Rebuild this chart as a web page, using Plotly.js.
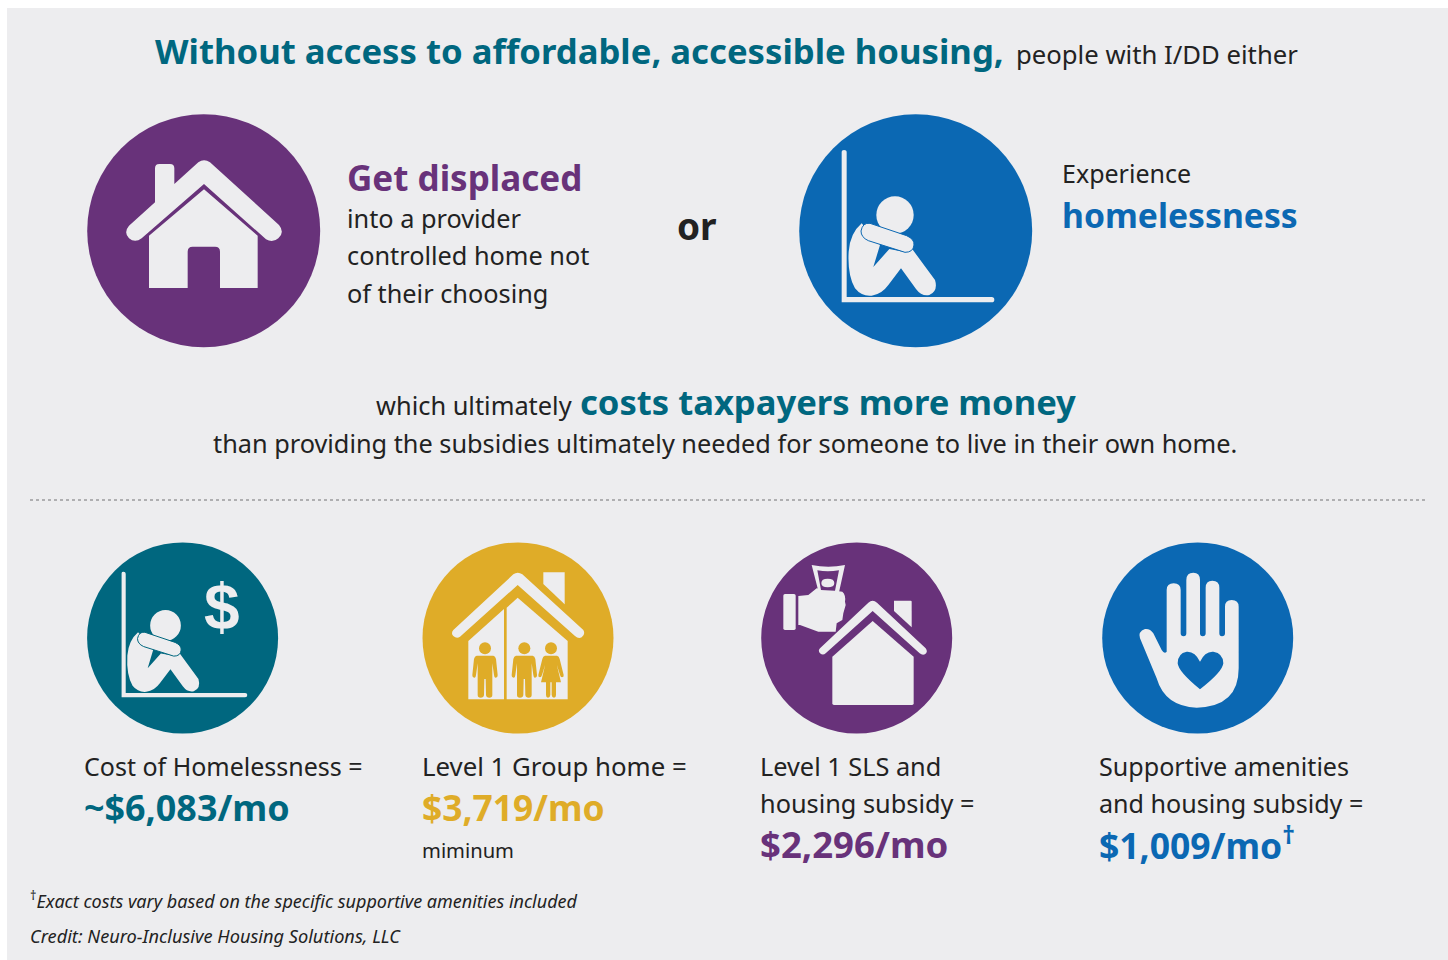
<!DOCTYPE html>
<html><head><meta charset="utf-8">
<script src="https://cdn.plot.ly/plotly-3.0.1.min.js"></script>
<style>html,body{margin:0;padding:0;background:#fff}#c{width:1448px;height:960px}</style>
</head><body><div id="c"></div>
<script>
const TEAL='#00677f',PURPLE='#68327a',BLUE='#0b68b3',GOLD='#dfac28',BG='#ededef',INK='#222222';
const HEAD='"Noto Sans", sans-serif', BODY='"Noto Sans", sans-serif';

const costLabels=[['Cost of Homelessness ='],['Level 1 Group home ='],['Level 1 SLS and','housing subsidy ='],['Supportive amenities','and housing subsidy =']];
const costValues=['~$6,083/mo','$3,719/mo','$2,296/mo','$1,009/mo<sup>†</sup>'];
const costNotes=['','miminum','',''];
const costColors=[TEAL,GOLD,PURPLE,BLUE];
const displacedLines=['into a provider','controlled home not','of their choosing'];
const footnotes=['<sup>†</sup><i>Exact costs vary based on the specific supportive amenities included</i>','<i>Credit: Neuro-Inclusive Housing Solutions, LLC</i>'];

// layout and type settings, separate from the content above
const costLeft=[84,422,760,1099];
const costLabelSize=[25,25.8,25.3,25.1];
const costValueSize=[35.9,35.4,36.5,35.5];
const costValueY=[807.5,807,844,843];
const footSize=[18,18.2];
const footY=[900,935.5];

const anns=[];
function t(text,x,y,size,color,bold,anchor,family){
  anns.push({text:bold?'<b>'+text+'</b>':text,x,y,xref:'x',yref:'y',showarrow:false,xanchor:anchor||'left',yanchor:'middle',
    borderpad:0,borderwidth:0,font:{family:family||(bold?HEAD:BODY),size,color}});
}
t('Without access to affordable, accessible housing,',155,50,34.7,TEAL,true);
t('people with I/DD either',1016,54,25.7,INK);
t('Get displaced',347,177,35,PURPLE,true);
displacedLines.forEach((l,i)=>t(l,347,218+i*37.4,25.3,INK));
t('or',677,225,37,INK,true);
t('Experience',1062,173,25,INK);
t('homelessness',1062,214.5,33.7,BLUE,true);
t('which ultimately',376,405,25.4,INK);
t('costs taxpayers more money',580,401.5,34.6,TEAL,true);
t('than providing the subsidies ultimately needed for someone to live in their own home.',213,443,25.3,INK);
costLabels.forEach((ls,i)=>{
  ls.forEach((l,j)=>t(l,costLeft[i],766+j*37,costLabelSize[i],INK));
  t(costValues[i],costLeft[i],costValueY[i],costValueSize[i],costColors[i],true);
  if(costNotes[i]) t(costNotes[i],costLeft[i],850,20.2,INK);
});
t('$',222,607,64,BG,true,'center','"Liberation Sans Narrow", sans-serif');
footnotes.forEach((f,i)=>t(f,30,footY[i],footSize[i],INK));

function xf(d,ox,oy,s){return d.replace(/(-?\d+\.?\d*),(-?\d+\.?\d*)/g,(m,a,b)=>(ox+a*s).toFixed(2)+','+(oy+b*s).toFixed(2));}
const shapes=[];
function fillP(d,color,line){shapes.push({type:'path',path:d,xref:'x',yref:'y',fillcolor:color,line:line||{width:0}});}
function circ(cx,cy,r,color){shapes.push({type:'circle',xref:'x',yref:'y',x0:cx-r,x1:cx+r,y0:cy-r,y1:cy+r,fillcolor:color,line:{width:0}});}
shapes.push({type:'rect',xref:'x',yref:'y',x0:7,x1:1448,y0:8,y1:960,fillcolor:BG,line:{width:0}});
shapes.push({type:'line',xref:'x',yref:'y',x0:30,x1:1425,y0:500,y1:500,line:{color:'#9a9b9d',width:1.3,dash:'dot'}});

// big house
circ(203.7,230.7,116.5,PURPLE);
const H1=[80,105,1/3];
fillP(xf('M147,362 L225,292 L225,190 Q225,177 238,177 L270,177 Q283,177 283,190 L283,237 L355,172 Q372,160 390,172 L597,360 Q615,382 595,400 Q578,415 558,403 L372,237 L185,400 Q165,415 147,400 Q130,382 147,362 Z',...H1),BG);
fillP(xf('M207,392 L372,253 L533,392 L533,549 L420,549 L420,440 Q420,425 405,425 L338,425 Q323,425 323,440 L323,549 L207,549 Z',...H1),BG);

// seated person
function person(ox,oy,s,bg){
  fillP(xf('M155,140 Q155,135 162,135 Q170,135 170,142 L170,576 L605,576 Q613,576 613,584 Q613,592 605,592 L155,592 Z',ox,oy,s),BG);
  circ(ox+315*s,oy+330*s,56*s,BG);
  fillP(xf('M215,355 Q180,385 176,440 Q172,510 195,550 Q215,575 245,572 Q275,568 295,540 L333,490 L378,552 Q395,575 418,570 Q445,558 435,525 L365,430 L340,440 L298,432 L250,486 L270,420 Z',ox,oy,s),BG);
  fillP(xf('M240,355 L350,392 Q374,403 372,420 Q370,442 345,442 L235,407 Q213,397 213,378 Q218,352 240,355 Z',ox,oy,s),BG,{color:bg,width:1});
}
circ(915.7,230.7,116.5,BLUE);
person(790,105,1/3,BLUE);

// teal
circ(182.6,638,95.5,TEAL);
person(79.04,534.8,0.2745,TEAL);

// gold group home
circ(518,638,95.5,GOLD);
const H2=[415,535,1/3];
fillP(xf('M115,285 L295,118 Q308,108 322,118 L505,285 Q512,298 500,307 Q490,312 480,303 L308,150 L135,305 Q125,312 115,303 Q107,295 115,285 Z',...H2),BG);
fillP(xf('M385,112 L449,112 L449,208 L385,147 Z',...H2),BG);
fillP(xf('M160,318 L267,222 L267,493 L160,493 Z',...H2),BG);
fillP(xf('M275,218 L308,188 L458,318 L458,493 L275,493 Z',...H2),BG);
function male(cx){
  const X=v=>cx+v;
  circ(415+cx/3,535+340/3,6,GOLD);
  fillP(xf(`M${X(-25)},362 L${X(25)},362 Q${X(31)},363 ${X(33)},372 L${X(38)},420 Q${X(38)},428 ${X(31)},428 Q${X(28)},428 ${X(27)},420 L${X(22)},385 L${X(22)},480 Q${X(22)},488 ${X(13)},488 Q${X(4)},488 ${X(3)},480 L${X(2)},432 L${X(-2)},432 L${X(-3)},480 Q${X(-4)},488 ${X(-13)},488 Q${X(-22)},488 ${X(-22)},480 L${X(-22)},385 L${X(-27)},420 Q${X(-28)},428 ${X(-31)},428 Q${X(-38)},428 ${X(-38)},420 L${X(-33)},372 Q${X(-31)},363 ${X(-25)},362 Z`,...H2),GOLD);
}
function female(cx){
  const X=v=>cx+v;
  circ(415+cx/3,535+340/3,6,GOLD);
  fillP(xf(`M${X(-18)},362 L${X(18)},362 Q${X(24)},363 ${X(26)},372 L${X(38)},420 Q${X(39)},427 ${X(33)},427 Q${X(29)},427 ${X(27)},420 L${X(17)},388 L${X(30)},442 L${X(15)},442 L${X(15)},480 Q${X(15)},488 ${X(9)},488 Q${X(3)},488 ${X(2)},480 L${X(2)},442 L${X(-2)},442 L${X(-2)},480 Q${X(-3)},488 ${X(-9)},488 Q${X(-15)},488 ${X(-15)},480 L${X(-15)},442 L${X(-30)},442 L${X(-17)},388 L${X(-27)},420 Q${X(-29)},427 ${X(-33)},427 Q${X(-39)},427 ${X(-38)},420 L${X(-26)},372 Q${X(-24)},363 ${X(-18)},362 Z`,...H2),GOLD);
}
male(210);male(328);female(408);

// purple subsidy
circ(856.7,638,95.5,PURPLE);
const H3=[755,535,1/3];
fillP(xf('M195,340 L340,203 Q353,192 366,203 L512,340 Q520,350 510,358 Q502,362 494,355 L353,228 L212,355 Q204,362 195,355 Q188,347 195,340 Z',...H3),BG);
fillP(xf('M417,197 L467,197 Q470,197 470,200 L470,277 L417,228 Z',...H3),BG);
fillP(xf('M232,365 L353,258 L476,365 L476,505 Q476,510 471,510 L237,510 Q232,510 232,505 Z',...H3),BG);
fillP(xf('M90,177 L117,177 Q122,177 122,182 L122,280 Q122,285 117,285 L90,285 Q85,285 85,280 L85,182 Q85,177 90,177 Z',...H3),BG);
fillP(xf('M130,183 L160,180 L185,160 L262,170 Q273,180 270,200 L272,210 L265,235 L262,255 L245,265 L242,290 L190,290 L135,270 L130,270 Z',...H3),BG);
fillP(xf('M170,90 Q220,100 270,90 L252,172 L190,168 Z',...H3),BG);
fillP(xf('M187,106 Q218,112 252,106 L240,167 L198,165 Z',...H3),PURPLE);
fillP(xf('M218,131 Q238,131 238,144 Q238,157 218,157 Q199,157 199,144 Q199,131 218,131 Z',...H3),BG);

// helping hand
circ(1197.7,638,95.5,BLUE);
const H4=[1095,535,1/3];
fillP(xf('M135,310 Q128,290 150,282 Q165,280 175,295 L200,345 Q208,358 215,350 L215,165 Q215,145 236,145 Q257,145 257,165 L257,295 Q257,304 266,304 Q274,304 274,295 L274,135 Q274,113 295,113 Q315,113 315,135 L315,295 Q315,304 323,304 Q332,304 332,295 L332,158 Q332,137 352,137 Q373,137 373,158 L373,295 Q373,304 381,304 Q390,304 390,295 L390,215 Q390,195 410,195 Q431,195 431,215 L431,400 Q431,515 305,518 Q210,515 185,430 Z',...H4),BG);
fillP(xf('M315,380 Q300,348 275,350 Q248,355 248,385 Q250,410 315,463 Q383,410 385,385 Q385,355 355,350 Q330,348 315,380 Z',...H4),BLUE);

Plotly.newPlot('c',[],{
  width:1448,height:960,margin:{l:0,r:0,t:0,b:0,pad:0},paper_bgcolor:'#ffffff',plot_bgcolor:'#ffffff',showlegend:false,
  xaxis:{range:[0,1448],visible:false,fixedrange:true},
  yaxis:{range:[960,0],visible:false,fixedrange:true},
  shapes,annotations:anns
},{staticPlot:true,displayModeBar:false});
</script></body></html>
